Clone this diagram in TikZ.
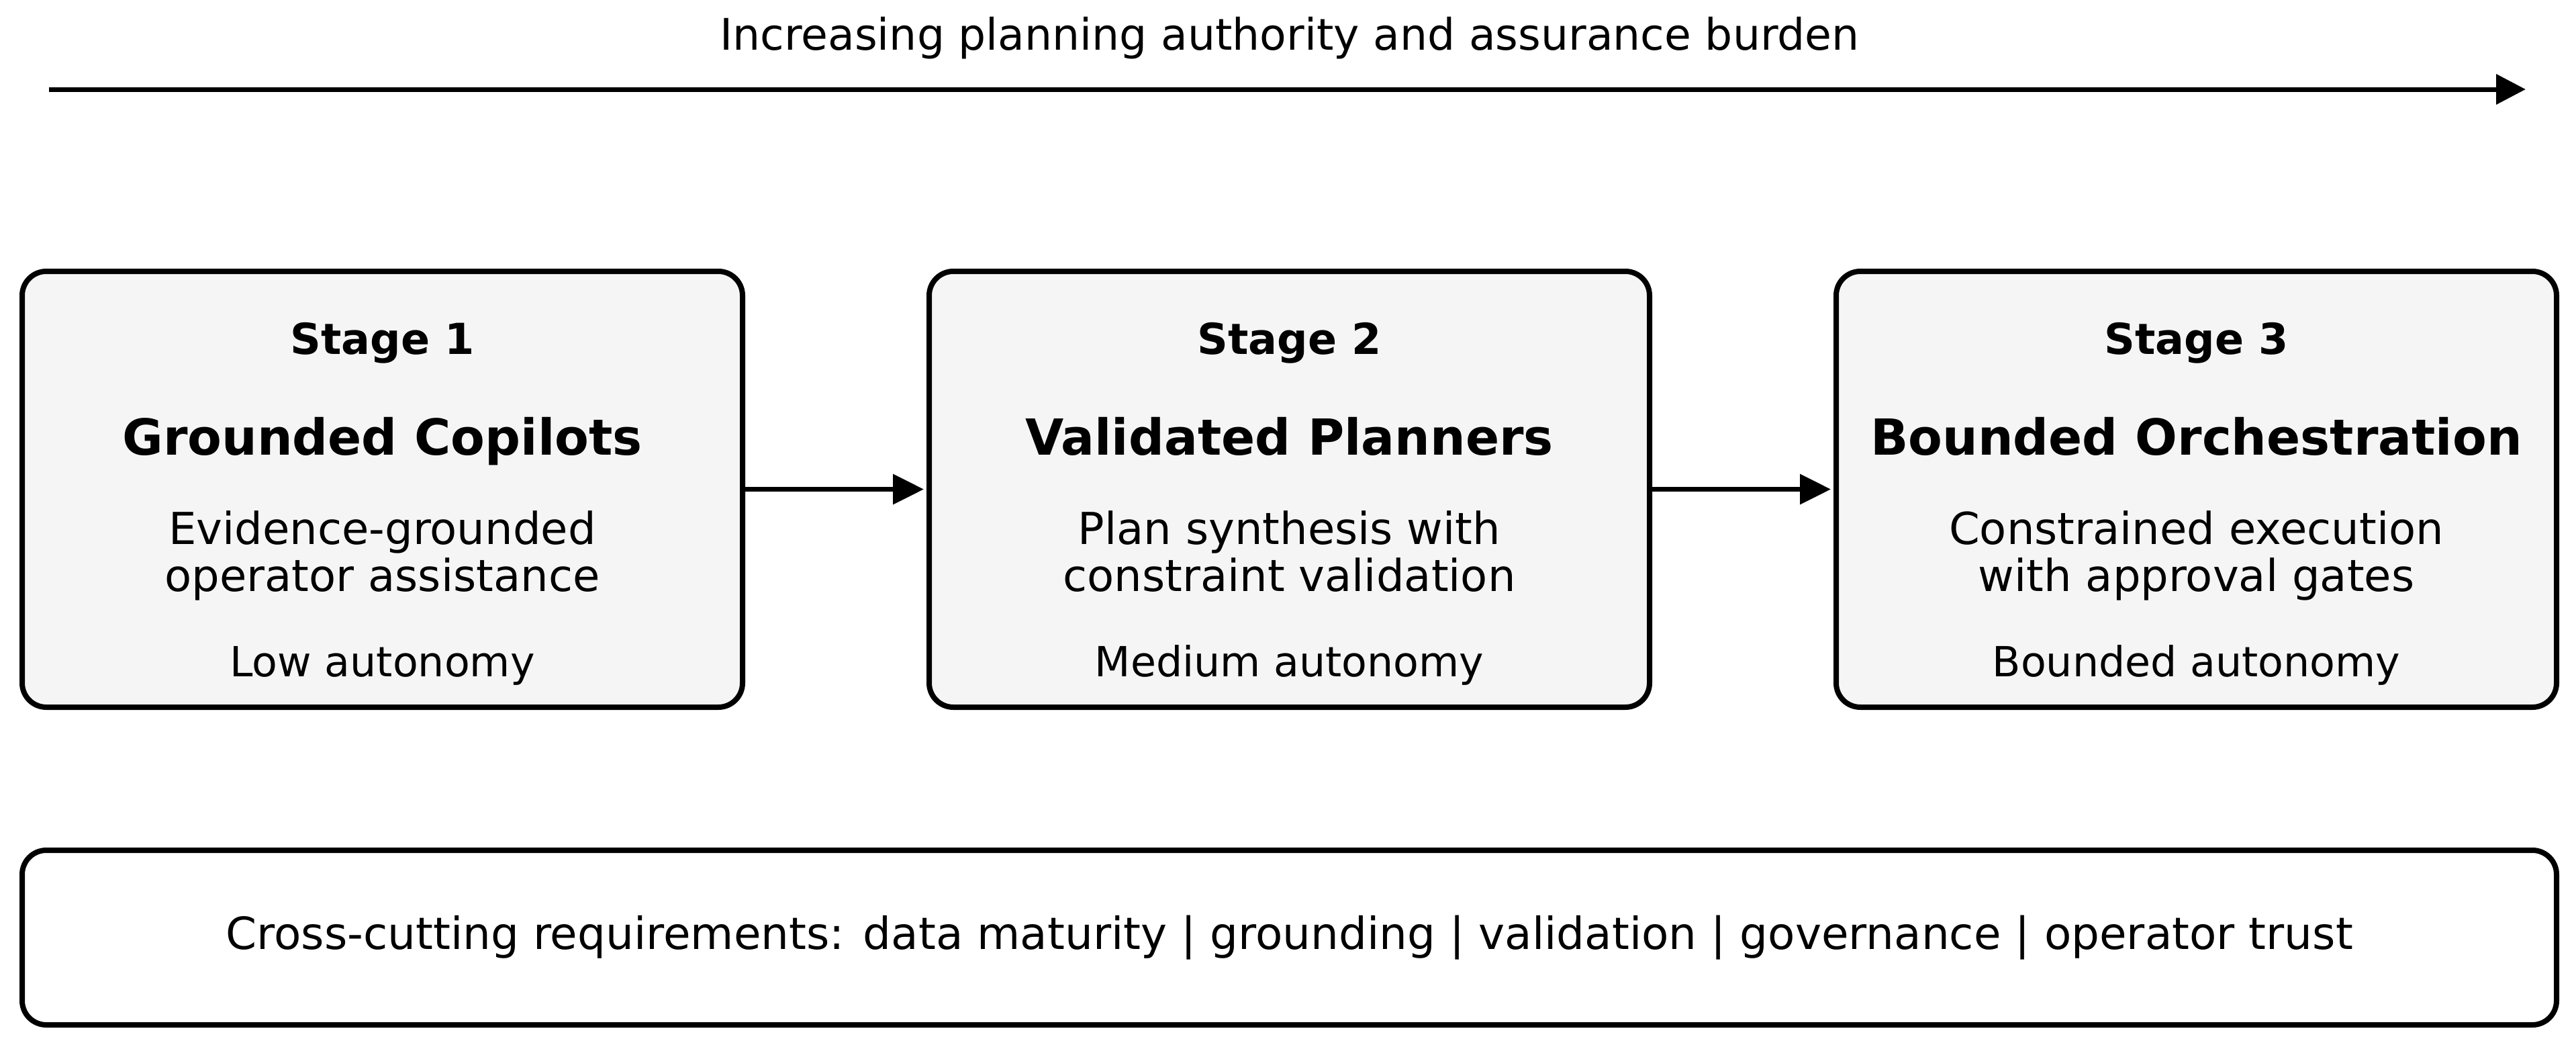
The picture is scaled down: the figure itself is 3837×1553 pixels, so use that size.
\documentclass[tikz,border=0pt]{standalone}
\usepackage{fontspec}
\setmainfont{DejaVu Sans}
\usetikzlibrary{arrows.meta}
\definecolor{boxfill}{HTML}{F5F5F5}
\begin{document}
\begin{tikzpicture}[x=0.25pt,y=-0.25pt,
  stagebox/.style={draw=black, line width=2pt, fill=boxfill, rounded corners=9pt,
    minimum width=268.25pt, minimum height=162.25pt, inner sep=0pt, outer sep=0pt, anchor=north west},
  crossbox/.style={draw=black, line width=2pt, fill=white, rounded corners=9pt,
    minimum width=943.75pt, minimum height=65pt, inner sep=0pt, outer sep=0pt, anchor=north west},
  txt/.style={inner sep=0pt, anchor=base},
  stagelbl/.style={txt, font=\bfseries\fontsize{15.9}{18}\selectfont},
  titlelbl/.style={txt, font=\bfseries\fontsize{18.5}{22}\selectfont},
  desclbl/.style={txt, font=\fontsize{16.4}{19}\selectfont},
  autolbl/.style={txt, font=\fontsize{15.45}{18}\selectfont},
  conn/.style={line width=1.75pt, -{Triangle[length=11.5pt,width=11pt]}, shorten >=2pt},
  toparrow/.style={line width=1.75pt, -{Triangle[length=11pt,width=11pt]}}
]
\useasboundingbox (0,0) rectangle (3837,1553);

% top axis
\node[txt, font=\fontsize{16.2}{19}\selectfont] (toptext) at (1921,75) {Increasing planning authority and assurance burden};
\coordinate (ta) at (73,133);
\coordinate (tb) at (3762,133);
\draw[toparrow] (ta) -- (tb);

% stage boxes
\node[stagebox] (st1) at (33,404) {};
\node[stagebox] (st2) at (1384,404) {};
\node[stagebox] (st3) at (2735,404) {};

\foreach \i/\cx/\ti/\da/\db/\au in {
  1/569.5/Grounded Copilots/Evidence-grounded/operator assistance/Low autonomy,
  2/1920.5/Validated Planners/Plan synthesis with/constraint validation/Medium autonomy,
  3/3271.5/Bounded Orchestration/Constrained execution/with approval gates/Bounded autonomy}{
  \node[stagelbl] (sl\i) at (\cx,527) {Stage \i};
  \node[titlelbl] (ti\i) at (\cx,677) {\ti};
  \node[desclbl] (da\i) at (\cx,810) {\da};
  \node[desclbl] (db\i) at (\cx,880) {\db};
  \node[autolbl] (au\i) at (\cx,1007) {\au};
}

\draw[conn] (st1.east) -- (st2.west);
\draw[conn] (st2.east) -- (st3.west);

% cross-cutting box
\node[crossbox] (cross) at (33,1266) {};
\node[txt, font=\fontsize{16.5}{19}\selectfont] (crosstext) at (1920.5,1413) {Cross-cutting requirements: data maturity | grounding | validation | governance | operator trust};
\end{tikzpicture}
\end{document}
